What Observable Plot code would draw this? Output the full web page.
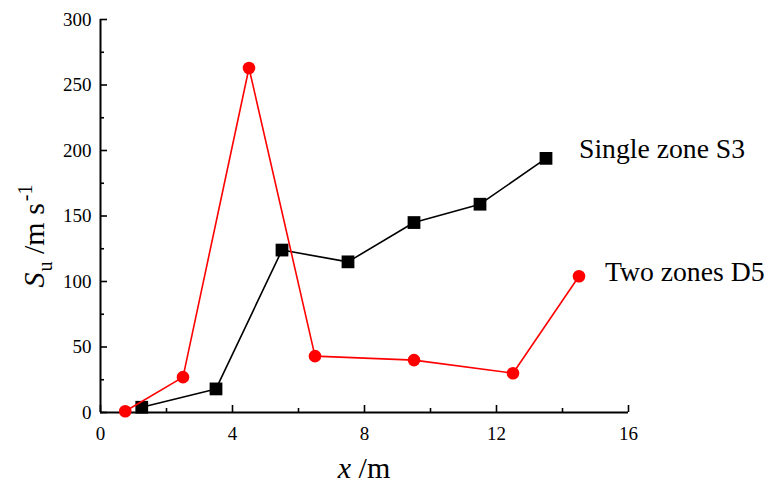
<!DOCTYPE html>
<html>
<head>
<meta charset="utf-8">
<script src="https://cdn.jsdelivr.net/npm/d3@7"></script>
<script src="https://cdn.jsdelivr.net/npm/@observablehq/plot@0.6"></script>
<style>
  html, body { margin: 0; padding: 0; background: #fff; }
  #chart svg { display: block; }
</style>
</head>
<body>
<div id="chart"></div>
<script>
// Single zone S3 (black squares)
const singleX = [1.25, 3.5, 5.5, 7.5, 9.5, 11.5, 13.5];
const singleY = [4, 18, 124, 115, 145, 159, 194];
// Two zones D5 (red circles)
const twoX = [0.75, 2.5, 4.5, 6.5, 9.5, 12.5, 14.5];
const twoY = [1, 27, 263, 43, 40, 30, 104];
// Series labels
const seriesNames = ["Single zone S3", "Two zones D5"];
// Ticks
const xMajor = [0, 4, 8, 12, 16];
const xMinor = [2, 6, 10, 14];
const yMajor = [0, 50, 100, 150, 200, 250, 300];
const yMinor = [25, 75, 125, 175, 225, 275];

const single = singleX.map((x, i) => ({x, y: singleY[i]}));
const two = twoX.map((x, i) => ({x, y: twoY[i]}));
const labels = [
  {x: singleX[singleX.length - 1], y: singleY[singleY.length - 1], name: seriesNames[0]},
  {x: twoX[twoX.length - 1], y: twoY[twoY.length - 1], name: seriesNames[1]}
];

const FONT = "Liberation Serif, Times New Roman, serif";

const chart = Plot.plot({
  width: 770,
  height: 491,
  marginLeft: 100,
  marginRight: 142,
  marginTop: 19,
  marginBottom: 79,
  x: {domain: [0, 16], label: null},
  y: {domain: [0, 300], label: null},
  style: {fontFamily: FONT, fontSize: "19px", color: "#000", background: "#fff"},
  marks: [
    Plot.axisX({ticks: xMajor, tickSize: 0, tickPadding: 14, tickFormat: d => String(d), fontSize: 19, label: null}),
    Plot.axisX({ticks: xMajor, tickSize: -7, strokeWidth: 1.6, text: null, label: null}),
    Plot.axisX({ticks: xMinor, tickSize: -4, strokeWidth: 1.6, text: null, label: null}),
    Plot.axisY({ticks: yMajor, tickSize: 0, tickPadding: 9, tickFormat: d => String(d), fontSize: 19, label: null}),
    Plot.axisY({ticks: yMajor, tickSize: -7, strokeWidth: 1.6, text: null, label: null}),
    Plot.axisY({ticks: yMinor, tickSize: -4, strokeWidth: 1.6, text: null, label: null}),
    Plot.ruleX([0], {stroke: "#000", strokeWidth: 2}),
    Plot.ruleY([0], {stroke: "#000", strokeWidth: 2}),
    Plot.line(single, {x: "x", y: "y", stroke: "#000", strokeWidth: 1.6}),
    Plot.dot(single, {x: "x", y: "y", symbol: "square", r: 7.2, fill: "#000", stroke: "none"}),
    Plot.line(two, {x: "x", y: "y", stroke: "#ff0000", strokeWidth: 1.6}),
    Plot.dot(two, {x: "x", y: "y", r: 6.3, fill: "#ff0000", stroke: "none"}),
    Plot.text(labels.slice(0, 1), {x: "x", y: "y", text: "name", textAnchor: "start", lineAnchor: "bottom", dx: 33, dy: 0, fontSize: 27.7, fill: "#000"}),
    Plot.text(labels.slice(1), {x: "x", y: "y", text: "name", textAnchor: "start", lineAnchor: "bottom", dx: 26, dy: 5, fontSize: 27.7, fill: "#000"})
  ]
});

const svg = d3.select(chart);
// x axis title
const xt = svg.append("text")
  .attr("x", 364).attr("y", 478)
  .attr("text-anchor", "middle")
  .attr("font-family", FONT)
  .attr("font-size", 30)
  .attr("fill", "#000");
xt.append("tspan").attr("font-style", "italic").text("x");
xt.append("tspan").text(" /m");

// y axis title
const yt = svg.append("text")
  .attr("transform", "translate(44,236) rotate(-90)")
  .attr("text-anchor", "middle")
  .attr("font-family", FONT)
  .attr("font-size", 30)
  .attr("fill", "#000");
yt.append("tspan").attr("font-style", "italic").text("S");
yt.append("tspan").attr("font-size", 20).attr("dy", 8).attr("dx", 1).text("u");
yt.append("tspan").attr("dy", -8).text(" /m s");
yt.append("tspan").attr("font-size", 20).attr("dy", -12).attr("dx", 2).text("-1");

document.getElementById("chart").appendChild(chart);
</script>
</body>
</html>
